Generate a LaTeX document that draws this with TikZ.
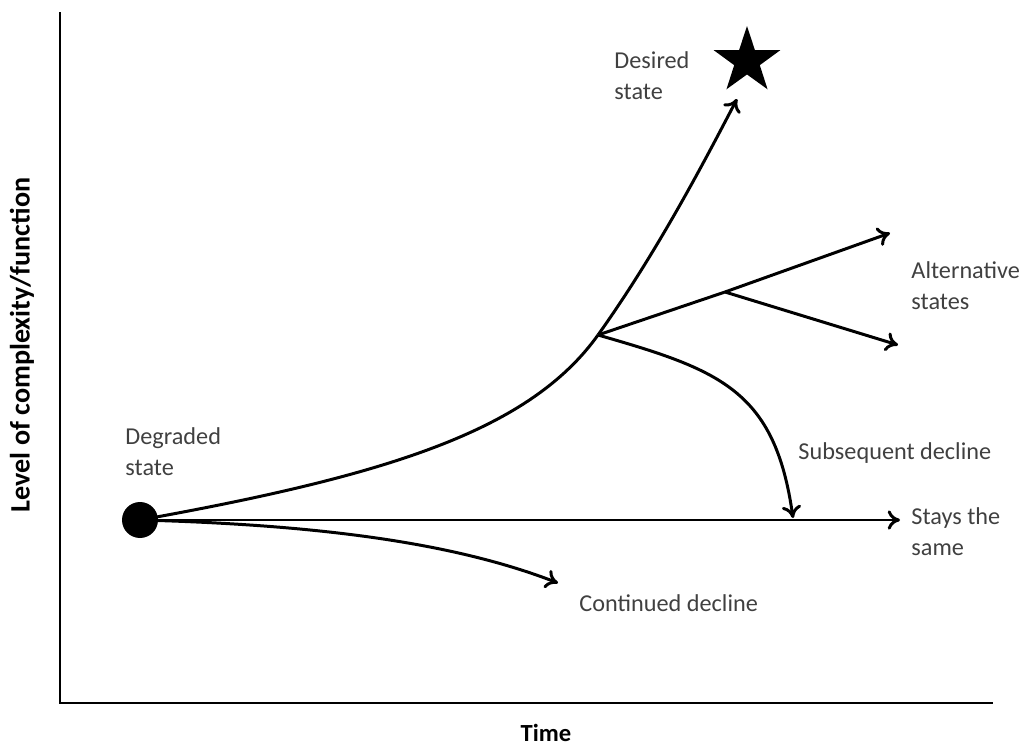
\documentclass[tikz,border=0pt]{standalone}
\usepackage{fontspec}
\setmainfont{Carlito}
\usetikzlibrary{shapes.geometric,arrows.meta}

\begin{document}
\begin{tikzpicture}[x=0.02cm, y=-0.02cm, line width=1.7pt,
    arr/.style={-{To[length=7pt,width=11pt]}},
    lab/.style={anchor=west, align=left, inner sep=0, text=black!75,
        font=\fontsize{13.8}{17.6}\selectfont},
    axlab/.style={inner sep=0, font=\bfseries\fontsize{14}{16}\selectfont}]
\useasboundingbox (0,0) rectangle (1022,747);
% axes
\coordinate (top) at (60,12);
\coordinate (origin) at (60,703);
\coordinate (right) at (993,703);
\draw (top) -- (origin) -- (right);
\node[axlab, rotate=90, font=\bfseries\fontsize{16}{18}\selectfont] (ylab) at (22,345) {Level of complexity/function};
\node[axlab] (xlab) at (546,733) {Time};

% states
\node[circle, fill, inner sep=0, minimum size=0.72cm] (start) at (140,520) {};
\node[star, star points=5, star point ratio=2.6, fill, inner sep=0,
    minimum size=1.4cm] (goal) at (747,61) {};
\coordinate (fork) at (598,335);
\coordinate (split) at (725,292);
\coordinate (desired) at (737,99);
\coordinate (alt1) at (890,233);
\coordinate (alt2) at (898,345);
\coordinate (sub) at (793,518);
\coordinate (same) at (900,520);
\coordinate (cont) at (558,583);

% trajectories
\draw[arr] (start.center) -- (same);
\draw[arr] (start.center) .. controls (330,525) and (460,545) .. (cont);
\draw (start.center) .. controls (390,475) and (530,430) .. (fork);
\draw[arr] (fork) .. controls (655,255) and (700,170) .. (desired);
\draw[arr] (fork) -- (split) -- (alt1);
\draw[arr] (split) -- (alt2);
\draw[arr] (fork) .. controls (720,370) and (775,390) .. (sub);

% labels
\node[lab] (deslab) at (613,76) {Desired\\state};
\node[lab] (altlab) at (910,286) {Alternative\\states};
\node[lab] (sublab) at (797,453) {Subsequent decline};
\node[lab] (samelab) at (910,532) {Stays the\\same};
\node[lab] (deglab) at (124,452) {Degraded\\state};
\node[lab] (contlab) at (578,603) {Continued decline};
\end{tikzpicture}
\end{document}
